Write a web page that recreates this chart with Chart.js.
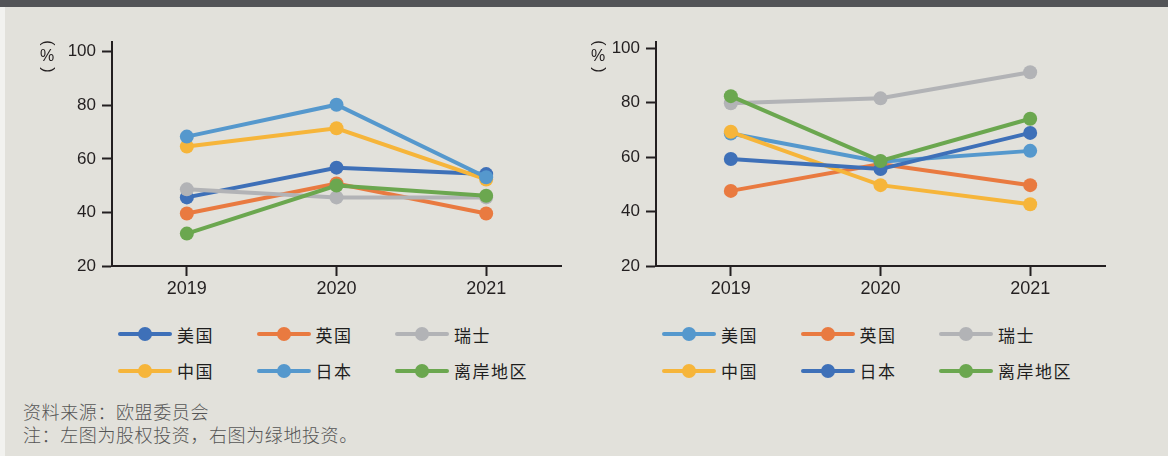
<!DOCTYPE html>
<html>
<head>
<meta charset="utf-8">
<script src="https://cdn.jsdelivr.net/npm/chart.js@4"></script>
<style>
  body { margin: 0; width: 1168px; height: 456px; background: #e2e1db; overflow: hidden; position: relative; }
  .topbar { position: absolute; left: 0; top: 0; width: 1168px; height: 7px; background: #535457; }
  .strip { position: absolute; left: 0; top: 7px; width: 5px; height: 449px; background: #f2f2ef; }
  canvas { position: absolute; top: 0; }
  #equity { left: 0; }
  #greenfield { left: 544px; }
  .legend { position: absolute; top: 316px; display: grid; grid-template-columns: repeat(3, 138.5px); grid-auto-rows: 36.5px; }
  .item { display: flex; align-items: center; font: 17px "Noto Sans CJK SC", sans-serif; letter-spacing: 1.5px; color: #1e1e1e; }
  .key { position: relative; width: 54px; height: 4px; border-radius: 2px; margin-right: 5px; }
  .key span { position: absolute; left: 20px; top: -5px; width: 14px; height: 14px; border-radius: 50%; }
  .note { position: absolute; left: 23px; top: 400px; font: 300 18px/23px "Noto Sans CJK SC", sans-serif; letter-spacing: 0.6px; color: #555; }
</style>
</head>
<body>
<div class="topbar"></div>
<div class="strip"></div>
<canvas id="equity" width="580" height="300"></canvas>
<canvas id="greenfield" width="580" height="300"></canvas>
<div class="legend" id="legendEquity" style="left:118px"></div>
<div class="legend" id="legendGreen" style="left:662px"></div>
<div class="note">资料来源：欧盟委员会<br>注：左图为股权投资，右图为绿地投资。</div>
<script>
const years = ["2019", "2020", "2021"];
const names = ["美国", "英国", "瑞士", "中国", "日本", "离岸地区"];
const yTicks = [20, 40, 60, 80, 100];

// 左图：股权投资 (%)
const usEquity = [45.6, 56.7, 54.3];
const ukEquity = [39.6, 50.8, 39.6];
const chEquity = [48.6, 45.6, 45.6];
const cnEquity = [64.6, 71.4, 52.3];
const jpEquity = [68.3, 80.2, 53.1];
const offEquity = [32.1, 50.0, 46.2];

// 右图：绿地投资 (%)
const usGreen = [68.7, 58.3, 62.3];
const ukGreen = [47.6, 57.5, 49.7];
const chGreen = [79.8, 81.6, 91.2];
const cnGreen = [69.3, 49.7, 42.7];
const jpGreen = [59.3, 55.6, 68.9];
const offGreen = [82.4, 58.6, 74.1];

const darkBlue = "#3e70b8", lightBlue = "#5598cd", orange = "#e97a40",
      gray = "#b2b3b6", yellow = "#f6b53a", green = "#6ba74f";

const ink = "#231f20";

const percentTitle = {
  id: "percentTitle",
  afterDraw(chart, args, opts) {
    const ctx = chart.ctx;
    ctx.save();
    ctx.fillStyle = ink;
    ctx.font = '16px "Liberation Sans"';
    ctx.textAlign = "center";
    ctx.textBaseline = "middle";
    ctx.save();
    ctx.translate(opts.x, 43);
    ctx.rotate(Math.PI / 2);
    ctx.fillText("(", 0, 0);
    ctx.restore();
    ctx.fillText("%", opts.x, 57);
    ctx.save();
    ctx.translate(opts.x, 70);
    ctx.rotate(Math.PI / 2);
    ctx.fillText(")", 0, 0);
    ctx.restore();
    ctx.restore();
  },
};

function makeChart(id, series, colors, order, yMax, titleX) {
  const ctx = document.getElementById(id).getContext("2d");
  return new Chart(ctx, {
    type: "line",
    data: {
      labels: years,
      datasets: series.map((data, i) => ({
        label: names[i],
        data: data,
        borderColor: colors[i],
        backgroundColor: colors[i],
        borderWidth: 4,
        pointRadius: 7,
        pointBorderWidth: 0,
        order: order[i],
      })),
    },
    options: {
      responsive: false,
      animation: false,
      devicePixelRatio: 1,
      layout: { padding: { top: 42, right: 19, bottom: 0, left: 0 } },
      plugins: {
        legend: { display: false },
        tooltip: { enabled: false },
        percentTitle: { x: titleX },
      },
      scales: {
        x: {
          offset: true,
          afterFit(scale) { scale.height = 34; },
          border: { display: true, color: ink, width: 2 },
          grid: { offset: false, drawOnChartArea: false, drawTicks: true, tickLength: 10, tickColor: ink, tickWidth: 2 },
          ticks: { color: ink, padding: 2, font: { family: "Liberation Sans", size: 18 } },
        },
        y: {
          min: 20,
          max: yMax,
          afterFit(scale) { scale.width = 112; },
          afterBuildTicks(scale) { scale.ticks = yTicks.map((v) => ({ value: v })); },
          border: { display: true, color: ink, width: 2 },
          grid: { drawOnChartArea: false, drawTicks: true, tickLength: 10, tickColor: ink, tickWidth: 2 },
          ticks: { color: ink, padding: 6, font: { family: "Liberation Sans", size: 17 } },
        },
      },
    },
    plugins: [percentTitle],
  });
}

function makeLegend(id, colors) {
  const box = document.getElementById(id);
  names.forEach((name, i) => {
    const item = document.createElement("div");
    item.className = "item";
    const key = document.createElement("div");
    key.className = "key";
    key.style.background = colors[i];
    const dot = document.createElement("span");
    dot.style.background = colors[i];
    key.appendChild(dot);
    item.appendChild(key);
    item.appendChild(document.createTextNode(name));
    box.appendChild(item);
  });
}

const equityColors = [darkBlue, orange, gray, yellow, lightBlue, green];
const greenColors = [lightBlue, orange, gray, yellow, darkBlue, green];

makeChart("equity",
  [usEquity, ukEquity, chEquity, cnEquity, jpEquity, offEquity],
  equityColors, [4, 5, 2, 3, 0, 1], 103.6, 47);
makeChart("greenfield",
  [usGreen, ukGreen, chGreen, cnGreen, jpGreen, offGreen],
  greenColors, [3, 4, 5, 2, 1, 0], 102.3, 54);

makeLegend("legendEquity", equityColors);
makeLegend("legendGreen", greenColors);
</script>
</body>
</html>
